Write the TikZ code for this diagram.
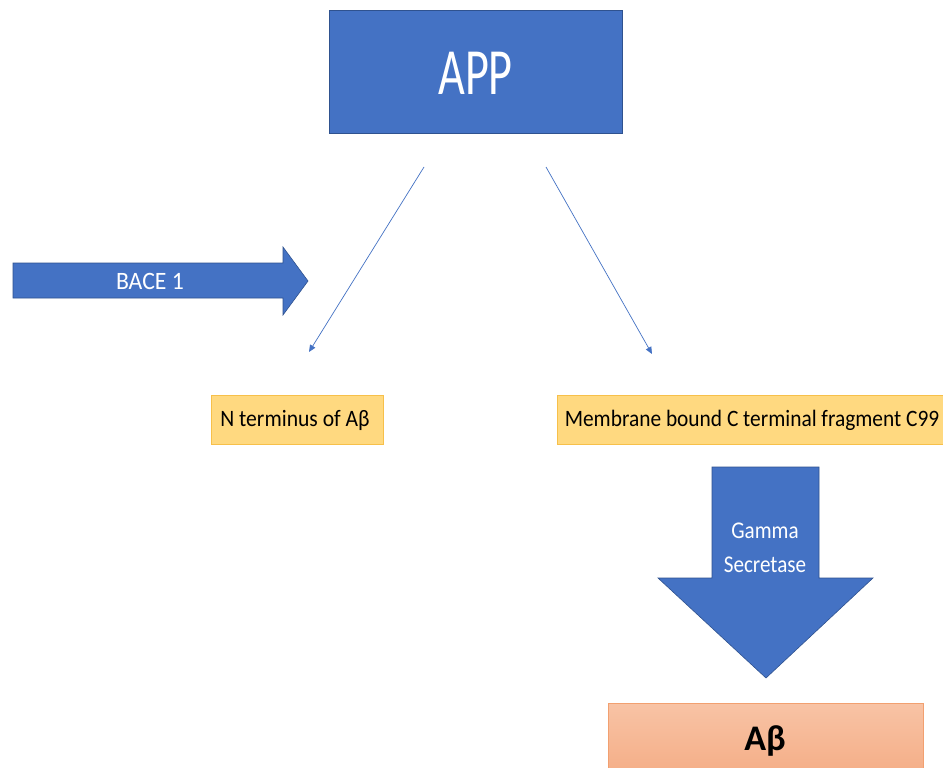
\documentclass[tikz,border=0pt]{standalone}
\usepackage{fontspec}
\setmainfont{Carlito}
\usetikzlibrary{arrows.meta}
\definecolor{appblue}{HTML}{4472C4}
\definecolor{appedge}{HTML}{2F528F}
\definecolor{fragfill}{HTML}{FFD980}
\definecolor{fragedge}{HTML}{F7C04A}
\definecolor{abtop}{HTML}{F8C3A5}
\definecolor{abbot}{HTML}{F4AB83}
\definecolor{abedge}{HTML}{F2A070}
\tikzset{
  bluebox/.style={draw=appedge, line width=0.8pt, fill=appblue, text=white},
  fragbox/.style={draw=fragedge, line width=0.8pt, fill=fragfill, text=black,
    inner sep=0pt, anchor=north west},
  blockarrow/.style={draw=appedge, line width=0.6pt, fill=appblue},
  cleave/.style={draw=appblue, line width=0.7pt, -{Triangle[length=7pt,width=6pt]}},
  arrowtext/.style={text=white, inner sep=0pt}
}
\begin{document}
\begin{tikzpicture}[x=1pt, y=-1pt]
  \useasboundingbox (0,0) rectangle (943,768);
  \fill[white] (0,0) rectangle (943,768);

  % precursor protein
  \node[bluebox, anchor=north west, minimum width=293pt, minimum height=123pt, inner sep=0pt]
    (app) at (329,10) {};
  \node[text=white, inner sep=0pt] (applabel) at (475.5,73)
    {\fontsize{66}{66}\selectfont\scalebox{0.70}[1]{APP}};

  % BACE 1 block arrow
  \draw[blockarrow] (13,263) -- (283,263) -- (283,247) -- (308,281) -- (283,315)
    -- (283,298) -- (13,298) -- cycle;
  \node[arrowtext] (bace) at (150,281) {\fontsize{25}{25}\selectfont\scalebox{0.95}[1]{BACE 1}};

  % cleavage products
  \node[fragbox, minimum width=172pt, minimum height=49pt] (nterm) at (211,395) {};
  \node[inner sep=0pt] (ntermlabel) at (295,420)
    {\fontsize{23.5}{23.5}\selectfont\scalebox{0.92}[1]{N terminus of A\char"03B2}};

  \node[fragbox, minimum width=392pt, minimum height=49pt] (c99) at (557,395) {};
  \node[inner sep=0pt] (c99label) at (752,420)
    {\fontsize{23.5}{23.5}\selectfont\scalebox{0.91}[1]{Membrane bound C terminal fragment C99}};

  % thin cleavage arrows
  \coordinate (l1s) at (424,167);
  \coordinate (l1e) at (309,352);
  \coordinate (l2s) at (546,167);
  \coordinate (l2e) at (652,354);
  \draw[cleave] (l1s) -- (l1e);
  \draw[cleave] (l2s) -- (l2e);

  % gamma secretase block arrow
  \draw[blockarrow] (712,467) -- (819,467) -- (819,578) -- (873,578) -- (766,678)
    -- (658,578) -- (712,578) -- cycle;
  \node[arrowtext] (gamma) at (765,549)
    {\fontsize{24}{34}\selectfont\scalebox{0.88}[1]{%
      \begin{tabular}{@{}c@{}}Gamma\\Secretase\end{tabular}}};

  % amyloid beta
  \node[draw=abedge, line width=0.8pt, top color=abtop, bottom color=abbot,
    anchor=north west, minimum width=315pt, minimum height=80pt, inner sep=0pt]
    (ab) at (608,703) {};
  \node[inner sep=0pt] (ablabel) at (765,741)
    {\fontsize{36}{36}\selectfont\bfseries A\char"03B2};
\end{tikzpicture}
\end{document}
